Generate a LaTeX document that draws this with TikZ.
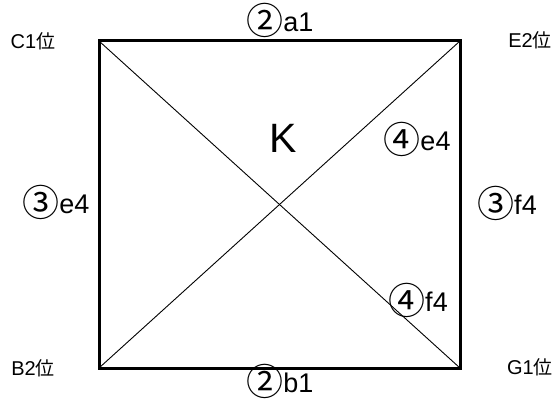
\documentclass[tikz,border=0pt]{standalone}
\usepackage{fontspec}
\setmainfont{Liberation Sans}
\newfontfamily\jpfont{Noto Sans CJK JP}
\newcommand\circd[1]{\raisebox{-3pt}{\jpfont\fontsize{37}{37}\selectfont #1}}
\newcommand\kanjipos{{\jpfont\fontsize{19}{19}\selectfont 位}}
\tikzset{
  corner/.style={inner sep=0pt, anchor=base, font=\fontsize{20}{20}\selectfont},
  edgelab/.style={inner sep=0pt, anchor=base, font=\fontsize{27}{27}\selectfont},
  biglab/.style={inner sep=0pt, anchor=base, font=\fontsize{41}{41}\selectfont},
  frame/.style={line width=3pt},
  diag/.style={line width=0.9pt}
}
\begin{document}
\begin{tikzpicture}[x=1pt,y=-1pt]
\useasboundingbox (0,0) rectangle (557,403);
\coordinate (tl) at (99,41);
\coordinate (tr) at (460,41);
\coordinate (bl) at (99,368);
\coordinate (br) at (460,368);
\draw[diag] (tl) -- (br);
\draw[diag] (tr) -- (bl);
\draw[frame] (tl) -- (tr) -- (br) -- (bl) -- cycle;
\node[corner] (c1) at (33,49) {C1\kanjipos};
\node[corner] (e2) at (530,48) {E2\kanjipos};
\node[corner] (b2) at (33,375) {B2\kanjipos};
\node[corner] (g1) at (530,374) {G1\kanjipos};
\node[edgelab] (a1) at (280,32) {\circd{②}a1};
\node[edgelab] (b1) at (280,392) {\circd{②}b1};
\node[edgelab] (e4l) at (56,214) {\circd{③}e4};
\node[edgelab] (f4r) at (507,215) {\circd{③}f4};
\node[edgelab] (e4i) at (417,151) {\circd{④}e4};
\node[edgelab] (f4i) at (418,312) {\circd{④}f4};
\node[biglab] (k) at (283,153) {K};
\end{tikzpicture}
\end{document}
